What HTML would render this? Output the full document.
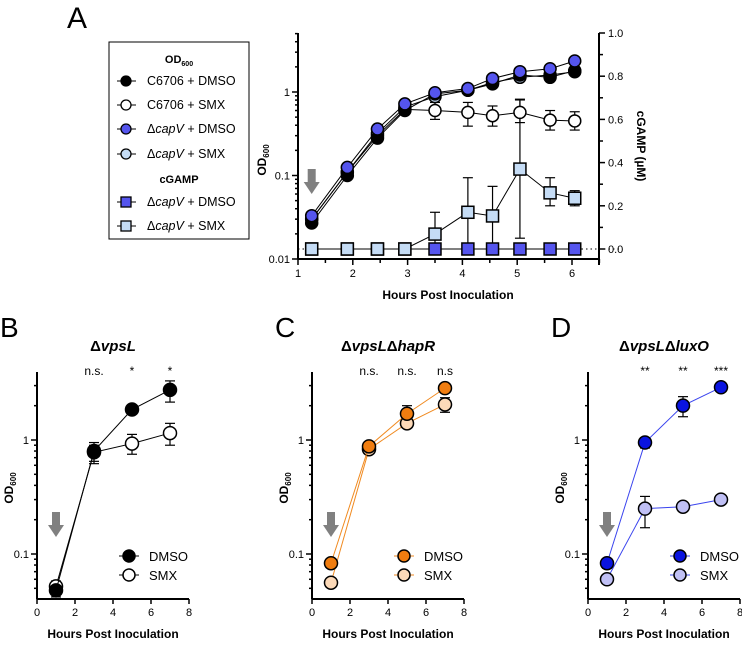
<!DOCTYPE html>
<html><head><meta charset="utf-8"><style>
body{margin:0;background:#fff}
svg text{font-family:"Liberation Sans",Arial,sans-serif}
</style></head><body>
<svg id="fig" width="742" height="641" viewBox="0 0 742 641" xmlns="http://www.w3.org/2000/svg">
<g id="root"></g>
</svg>
<script>
// Panel A data
const aHours=[1.25,1.9,2.45,2.95,3.5,4.1,4.55,5.05,5.6,6.05];
const aC6706Dmso=[0.027,0.10,0.28,0.60,0.95,1.05,1.25,1.6,1.5,1.8];
const aC6706Smx=[0.03,0.11,0.30,0.62,0.6,0.57,0.52,0.57,0.46,0.45];
const aC6706SmxLo=[0.03,0.11,0.30,0.62,0.47,0.39,0.39,0.43,0.35,0.35];
const aC6706SmxHi=[0.03,0.11,0.30,0.62,0.75,0.75,0.68,0.82,0.6,0.58];
const aCapvDmso=[0.033,0.125,0.36,0.72,0.98,1.1,1.45,1.75,1.9,2.35];
const aCapvSmx=[0.03,0.11,0.32,0.66,0.88,1.05,1.3,1.5,1.6,1.75];
const aGampDmso=[0,0,0,0,0,0,0,0,0,0];
const aGampSmx=[0,0,0,0,0.069,0.17,0.153,0.37,0.26,0.235];
const aGampSmxLo=[0,0,0,0,0,0,0,0.05,0.2,0.2];
const aGampSmxHi=[0,0,0,0,0.17,0.33,0.29,0.69,0.33,0.27];
const aXTicks=[1,2,3,4,5,6];
const aYTicks=[0.01,0.1,1];
const aRTicks=[0,0.2,0.4,0.6,0.8,1.0];
// Panels B-D data
const bcdHours=[1,3,5,7];
const bDmso=[0.048,0.8,1.85,2.75], bDmsoLo=[0.042,0.65,1.7,2.15], bDmsoHi=[0.055,0.95,2.0,3.3];
const bSmx=[0.052,0.78,0.93,1.15], bSmxLo=[0.046,0.62,0.75,0.9], bSmxHi=[0.058,0.9,1.12,1.4];
const cDmso=[0.083,0.88,1.7,2.85], cDmsoLo=[0.083,0.85,1.5,2.6], cDmsoHi=[0.083,0.92,2.0,3.1];
const cSmx=[0.056,0.83,1.4,2.05], cSmxLo=[0.052,0.8,1.3,1.75], cSmxHi=[0.06,0.86,1.5,2.35];
const dDmso=[0.083,0.95,2.0,2.9], dDmsoLo=[0.075,0.85,1.6,2.8], dDmsoHi=[0.09,1.05,2.4,3.0];
const dSmx=[0.06,0.25,0.26,0.3], dSmxLo=[0.057,0.17,0.25,0.29], dSmxHi=[0.063,0.32,0.27,0.31];
const bcdXTicks=[0,2,4,6,8];
const bcdYTicks=[0.1,1];
const bSig=["n.s.","*","*"], cSig=["n.s.","n.s.","n.s"], dSig=["**","**","***"];

const NS="http://www.w3.org/2000/svg";
const root=document.getElementById('root');
function el(t,a,p){const e=document.createElementNS(NS,t);for(const k in a)e.setAttribute(k,a[k]);(p||root).appendChild(e);return e;}
function txt(x,y,s,a,p){const e=el('text',Object.assign({x:x,y:y,'font-size':12,fill:'#000'},a),p);e.textContent=s;return e;}

// ---------- Panel A ----------
const gA=el('g',{});


const axL=298,axR=599,axT=33,axB=259;
const ax=h=>axL+(h-1)*54.8;
const ay=v=>axB-(Math.log10(v)+2)*83.5;
const ry=v=>249-v*216;
txt(67,28,'A',{'font-size':30},gA);
el('line',{x1:axL,y1:axT,x2:axL,y2:axB,stroke:'#000','stroke-width':2},gA);
el('line',{x1:axL,y1:axB,x2:axR,y2:axB,stroke:'#000','stroke-width':2},gA);
el('line',{x1:axR,y1:axT,x2:axR,y2:axB+6,stroke:'#000','stroke-width':2},gA);
aXTicks.forEach(h=>{el('line',{x1:ax(h),y1:axB,x2:ax(h),y2:axB+6,stroke:'#000','stroke-width':1.5},gA);
  txt(ax(h),axB+18,String(h),{'text-anchor':'middle','font-size':11},gA);
  el('line',{x1:ax(h+0.5),y1:axB,x2:ax(h+0.5),y2:axB+4,stroke:'#000','stroke-width':1.5},gA);});
for(let d=-2;d<1;d++)for(let m=1;m<10;m++){const v=m*Math.pow(10,d);if(ay(v)<axT)break;
  el('line',{x1:axL-(m==1?6:3),y1:ay(v),x2:axL,y2:ay(v),stroke:'#000','stroke-width':1.5},gA);}
aYTicks.forEach(v=>txt(axL-8,ay(v)+4,String(v),{'text-anchor':'end','font-size':11},gA));
aRTicks.forEach(v=>{el('line',{x1:axR,y1:ry(v),x2:axR+6,y2:ry(v),stroke:'#000','stroke-width':1.5},gA);
  if(v<0.95)el('line',{x1:axR,y1:ry(v+0.1),x2:axR+4,y2:ry(v+0.1),stroke:'#000','stroke-width':1.5},gA);
  txt(axR+9,ry(v)+4,v.toFixed(1),{'font-size':11},gA);});
el('line',{x1:axL,y1:ry(0),x2:axR+20,y2:ry(0),stroke:'#000','stroke-dasharray':'1.5,3'},gA);
const axT1=txt(448,299,'Hours Post Inoculation',{'text-anchor':'middle','font-weight':'bold'},gA);

const ylA=txt(0,0,'OD',{'font-weight':'bold','transform':'translate(266,160) rotate(-90)','text-anchor':'middle'},gA);

const ts=el('tspan',{'font-size':8,dy:3},ylA);ts.textContent='600';
const yrA=txt(0,0,'cGAMP (µM)',{'font-weight':'bold','transform':'translate(637,146) rotate(90)','text-anchor':'middle'},gA);

// arrow
function arrow(x,yTop,g){el('rect',{x:x-4,y:yTop,width:8,height:14,fill:'#808080'},g);el('polygon',{points:`${x-8},${yTop+13} ${x+8},${yTop+13} ${x},${yTop+25}`,fill:'#808080'},g);}
arrow(ax(1.25),169,gA);
function errs(xs,lo,hi,fx,fy,g,col){xs.forEach((h,i)=>{if(hi[i]-lo[i]<=0)return;const X=fx(h);
  el('line',{x1:X,y1:fy(Math.max(lo[i],1e-9)),x2:X,y2:fy(hi[i]),stroke:col||'#000','stroke-width':1.2},g);
  [lo[i],hi[i]].forEach(v=>el('line',{x1:X-5,y1:fy(Math.max(v,1e-9)),x2:X+5,y2:fy(Math.max(v,1e-9)),stroke:col||'#000','stroke-width':1.2},g));});}
function series(xs,ys,fx,fy,g,name,fill,line,shape,r){const pts=xs.map((h,i)=>fx(h)+','+fy(ys[i])).join(' ');
  const sg=el('g',{},g);
  el('polyline',{points:pts,fill:'none',stroke:line,'stroke-width':1},sg);
  xs.forEach((h,i)=>{let m;if(shape=='sq')m=el('rect',{x:fx(h)-r,y:fy(ys[i])-r,width:2*r,height:2*r,fill:fill,stroke:'#000','stroke-width':1.5},sg);
    else m=el('circle',{cx:fx(h),cy:fy(ys[i]),r:r,fill:fill,stroke:'#000','stroke-width':1.5},sg);
    });}
errs(aHours,aC6706SmxLo,aC6706SmxHi,ax,ay,gA);
errs(aHours,aGampSmxLo,aGampSmxHi,ax,ry,gA);
series(aHours,aGampDmso,ax,ry,gA,'cgamp-capv-dmso','#5555ee','#000','sq',6);
series(aHours,aGampSmx,ax,ry,gA,'cgamp-capv-smx','#c5dcf5','#000','sq',6);
series(aHours,aC6706Smx,ax,ay,gA,'c6706-smx','#fff','#000','c',6);
series(aHours,aCapvSmx,ax,ay,gA,'capv-smx','#c5dcf5','#000','c',6);
series(aHours,aC6706Dmso,ax,ay,gA,'c6706-dmso','#000','#000','c',6);
series(aHours,aCapvDmso,ax,ay,gA,'capv-dmso','#5555ee','#000','c',6);
// legend
const lg=el('g',{},gA);
el('rect',{x:109,y:42,width:140,height:197,fill:'#fff',stroke:'#000','stroke-width':1},lg);
const h1=txt(179,63,'OD',{'text-anchor':'middle','font-weight':'bold','font-size':11},lg);
const t6=el('tspan',{'font-size':7,dy:3},h1);t6.textContent='600';
txt(179,183,'cGAMP',{'text-anchor':'middle','font-weight':'bold','font-size':11},lg);
const legItems=[[81,'c','#000','C6706 +  DMSO',false],[105,'c','#fff','C6706 + SMX',false],[129,'c','#5555ee','capV +  DMSO',true],[154,'c','#c5dcf5','capV + SMX',true],[202,'sq','#5555ee','capV + DMSO',true],[226,'sq','#c5dcf5','capV + SMX',true]];
legItems.forEach(it=>{const ge=el('g',{},lg);
  el('line',{x1:117,y1:it[0],x2:136,y2:it[0],stroke:'#000'},ge);
  if(it[1]=='sq')el('rect',{x:121,y:it[0]-5,width:10,height:10,fill:it[2],stroke:'#000','stroke-width':1.3},ge);
  else el('circle',{cx:126,cy:it[0],r:5,fill:it[2],stroke:'#000','stroke-width':1.3},ge);
  const t=txt(147,it[0]+4,'',{'font-size':12.5},ge);
  if(it[4]){const a=el('tspan',{},t);a.textContent='Δ';const b=el('tspan',{'font-style':'italic'},t);b.textContent='capV';const c=el('tspan',{},t);c.textContent=it[3].slice(4);}
  else t.textContent=it[3];});

// ---------- Panels B-D ----------
function small(ox,letter,title,dm,dmL,dmH,sm,smL,smH,sig,colD,colS,line,name){
  const g=el('g',{});
  const fx=h=>ox+h*19, fy=v=>440-Math.log10(v)*114, T=372,B=599;
  txt(ox-37,337,letter,{'font-size':28},g);
  const tt=txt(ox+76,351,'',{'text-anchor':'middle','font-size':15,'font-weight':'bold'},g);
  
  title.forEach((p,i)=>{const s=el('tspan',i%2?{'font-style':'italic'}:{},tt);s.textContent=p;});
  el('line',{x1:ox,y1:T,x2:ox,y2:B,stroke:'#000','stroke-width':2},g);
  el('line',{x1:ox,y1:B,x2:ox+152,y2:B,stroke:'#000','stroke-width':2},g);
  bcdXTicks.forEach(h=>{el('line',{x1:fx(h),y1:B,x2:fx(h),y2:B+5,stroke:'#000','stroke-width':1.5},g);
    txt(fx(h),B+17,String(h),{'text-anchor':'middle','font-size':11},g);});
  for(let d=-2;d<1;d++)for(let m=1;m<10;m++){const v=m*Math.pow(10,d);if(fy(v)>B||fy(v)<T)continue;
    el('line',{x1:ox-(m==1?6:3),y1:fy(v),x2:ox,y2:fy(v),stroke:'#000','stroke-width':1.5},g);}
  bcdYTicks.forEach(v=>txt(ox-8,fy(v)+4,String(v),{'text-anchor':'end','font-size':11},g));
  txt(ox+76,638,'Hours Post Inoculation',{'text-anchor':'middle','font-weight':'bold'},g);
  const yl=txt(0,0,'OD',{'font-weight':'bold','transform':`translate(${ox-24},488) rotate(-90)`,'text-anchor':'middle'},g);
  const s6=el('tspan',{'font-size':8,dy:3},yl);s6.textContent='600';
  sig.forEach((s,i)=>txt(fx(bcdHours[i+1]),375,s,{'text-anchor':'middle','font-size':12},g));
  arrow(fx(1),512,g);
  errs(bcdHours,dmL,dmH,fx,fy,g);errs(bcdHours,smL,smH,fx,fy,g);
  series(bcdHours,sm,fx,fy,g,name+'-smx',colS,line,'c',6.5);
  series(bcdHours,dm,fx,fy,g,name+'-dmso',colD,line,'c',6.5);
  [[556,colD,'DMSO'],[575,colS,'SMX']].forEach(l=>{const ge=el('g',{},g);
    el('line',{x1:ox+82,y1:l[0],x2:ox+102,y2:l[0],stroke:line},ge);
    el('circle',{cx:ox+92,cy:l[0],r:6,fill:l[1],stroke:'#000','stroke-width':1.5},ge);
    txt(ox+112,l[0]+5,l[2],{'font-size':13},ge);});
}
small(37,'B',['Δ','vpsL'],bDmso,bDmsoLo,bDmsoHi,bSmx,bSmxLo,bSmxHi,bSig,'#000','#fff','#000','panel-b');
small(312,'C',['Δ','vpsL','Δ','hapR'],cDmso,cDmsoLo,cDmsoHi,cSmx,cSmxLo,cSmxHi,cSig,'#f07d10','#fcd9b8','#f08a20','panel-c');
small(588,'D',['Δ','vpsL','Δ','luxO'],dDmso,dDmsoLo,dDmsoHi,dSmx,dSmxLo,dSmxHi,dSig,'#0a14e0','#c0c0f5','#3a44ee','panel-d');
</script>
</body></html>
